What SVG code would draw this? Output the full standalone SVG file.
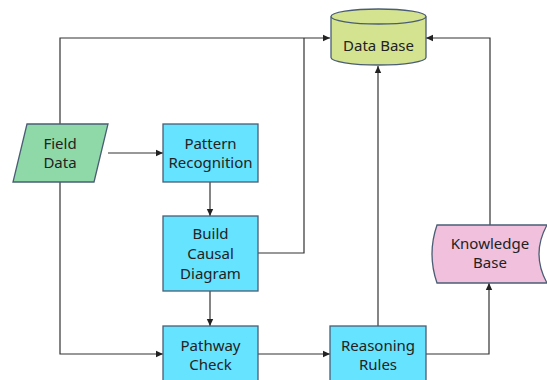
<svg xmlns="http://www.w3.org/2000/svg" width="547" height="380" viewBox="0 0 547 380">
<style>
.proc{fill:#66e3ff;stroke:#4a5d75;stroke-width:1.3}
.lbl{font-family:"Noto Sans","Open Sans",sans-serif;font-size:15px;fill:#222;text-anchor:middle}
.con{fill:none;stroke:#333;stroke-width:1.2}
</style>
<defs>
<marker id="arr" markerWidth="8" markerHeight="8" refX="7" refY="4" orient="auto" markerUnits="userSpaceOnUse">
<path d="M0,0.8 L7,4 L0,7.2 Z" fill="#222"/>
</marker>
</defs>
<rect width="547" height="380" fill="#fff"/>
<g id="connectors">
<path class="con" d="M60,124 V38 H330" marker-end="url(#arr)"/>
<path class="con" d="M258,253 H304 V38"/>
<path class="con" d="M490,225 V38 H426" marker-end="url(#arr)"/>
<path class="con" d="M378,326 V66" marker-end="url(#arr)"/>
<path class="con" d="M108,153 H163" marker-end="url(#arr)"/>
<path class="con" d="M210,182 V216" marker-end="url(#arr)"/>
<path class="con" d="M210,291 V326" marker-end="url(#arr)"/>
<path class="con" d="M60,182 V354 H163" marker-end="url(#arr)"/>
<path class="con" d="M258,354 H330" marker-end="url(#arr)"/>
<path class="con" d="M426,354 H489 V283" marker-end="url(#arr)"/>
</g>
<g id="database">
<path d="M331,16.5 V57.5 A47.5,7.5 0 0 0 426,57.5 V16.5" fill="#d4e38f" stroke="#4a5d75" stroke-width="1.3"/>
<ellipse cx="378.5" cy="16.5" rx="47.5" ry="7.5" fill="#d4e38f" stroke="#4a5d75" stroke-width="1.3"/>
<text class="lbl" x="378.5" y="51">Data Base</text>
</g>
<g id="fielddata">
<path d="M27,124 H108 L94,182 H13 Z" fill="#8fd9a8" stroke="#4a5d75" stroke-width="1.3"/>
<text class="lbl" x="60" y="149">Field</text>
<text class="lbl" x="60" y="168">Data</text>
</g>
<g id="pattern">
<rect class="proc" x="163" y="124" width="95" height="58"/>
<text class="lbl" x="210.5" y="149">Pattern</text>
<text class="lbl" x="210.5" y="168">Recognition</text>
</g>
<g id="causal">
<rect class="proc" x="163" y="216" width="95" height="75"/>
<text class="lbl" x="210.5" y="239">Build</text>
<text class="lbl" x="210.5" y="259">Causal</text>
<text class="lbl" x="210.5" y="279">Diagram</text>
</g>
<g id="pathway">
<rect class="proc" x="163" y="326" width="95" height="58"/>
<text class="lbl" x="210.5" y="351">Pathway</text>
<text class="lbl" x="210.5" y="370">Check</text>
</g>
<g id="reasoning">
<rect class="proc" x="330" y="326" width="96" height="58"/>
<text class="lbl" x="378" y="351">Reasoning</text>
<text class="lbl" x="378" y="370">Rules</text>
</g>
<g id="knowledge">
<path d="M437,225 H547 Q531,254 547,283 H437 Q427,254 437,225 Z" fill="#f0c0dc" stroke="#4a5d75" stroke-width="1.3"/>
<text class="lbl" x="490" y="249">Knowledge</text>
<text class="lbl" x="490" y="268">Base</text>
</g>
</svg>
